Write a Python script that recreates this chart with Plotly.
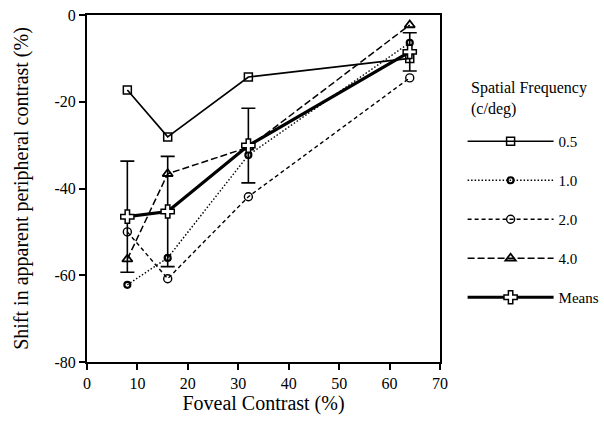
import plotly.graph_objects as go

contrast = [8, 16, 32, 64]
sf_05 = [-17.3, -28.1, -14.3, -10.0]
sf_10 = [-62.2, -56.0, -32.3, -6.4]
sf_20 = [-50.0, -60.8, -41.9, -14.5]
sf_40 = [-56.3, -36.6, -30.5, -2.3]
means = [-46.5, -45.3, -30.1, -8.5]
means_err = [12.8, 12.7, 8.6, 4.4]

x_ticks = [0, 10, 20, 30, 40, 50, 60, 70]
y_ticks = [0, -20, -40, -60, -80]
y_tick_text = ["0", "-20", "-40", "-60", "-80"]

FONT = "Liberation Serif"

fig = go.Figure()

series = [
    ("0.5", sf_05, "solid", 1.7, "square-open", 8, 1.5),
    ("1.0", sf_10, "1.5px,2px", 1.4, "circle-open", 6, 2.2),
    ("2.0", sf_20, "4px,3px", 1.4, "circle-open", 8, 1.4),
    ("4.0", sf_40, "7px,3px", 1.5, "triangle-up-open", 9, 1.8),
]
for i, (name, vals, dash, lw, sym, ms, mlw) in enumerate(series):
    fig.add_trace(go.Scatter(
        x=contrast, y=vals, name=name, mode="lines+markers",
        line=dict(color="black", width=lw, dash=dash),
        marker=dict(symbol=sym, size=ms, color="black", line=dict(color="black", width=mlw)),
        legendgroup=f"g{i}",
    ))

fig.add_trace(go.Scatter(
    x=contrast, y=means, name="Means", mode="lines+markers",
    line=dict(color="black", width=3.2),
    marker=dict(symbol="cross", size=11, color="white", line=dict(color="black", width=1.5)),
    error_y=dict(type="data", array=means_err, visible=True, color="black", thickness=1.6, width=7),
    legendgroup="g4",
))

fig.add_annotation(
    text="Spatial Frequency<br>(c/deg)", xref="paper", yref="paper",
    x=1.082, y=0.821, xanchor="left", yanchor="top", align="left",
    showarrow=False, font=dict(size=16, family=FONT, color="black"),
)

fig.update_layout(
    width=604, height=434,
    margin=dict(l=87, r=164, t=15, b=72, autoexpand=False),
    paper_bgcolor="white", plot_bgcolor="white",
    font=dict(family=FONT, color="black", size=15),
    showlegend=True,
    legend=dict(
        x=1.064, y=0.683, xanchor="left", yanchor="top",
        font=dict(size=15, family=FONT),
        traceorder="grouped", tracegroupgap=16.5,
        itemwidth=86,
        bgcolor="rgba(0,0,0,0)",
    ),
    xaxis=dict(
        range=[0, 70], tickvals=x_ticks, showgrid=False, zeroline=False,
        showline=True, linecolor="black", linewidth=2, mirror=True,
        ticks="outside", ticklen=6, tickwidth=2, tickcolor="black",
        tickfont=dict(size=16, family=FONT),
        title=dict(text="Foveal Contrast (%)", font=dict(size=20, family=FONT), standoff=5),
    ),
    yaxis=dict(
        range=[-80, 0], tickvals=y_ticks, ticktext=y_tick_text, showgrid=False, zeroline=False,
        showline=True, linecolor="black", linewidth=2, mirror=True,
        ticks="outside", ticklen=6, tickwidth=2, tickcolor="black",
        tickfont=dict(size=16, family=FONT),
        title=dict(text="Shift in apparent peripheral contrast (%)", font=dict(size=20, family=FONT), standoff=20),
    ),
)

fig.write_html("out.html")
